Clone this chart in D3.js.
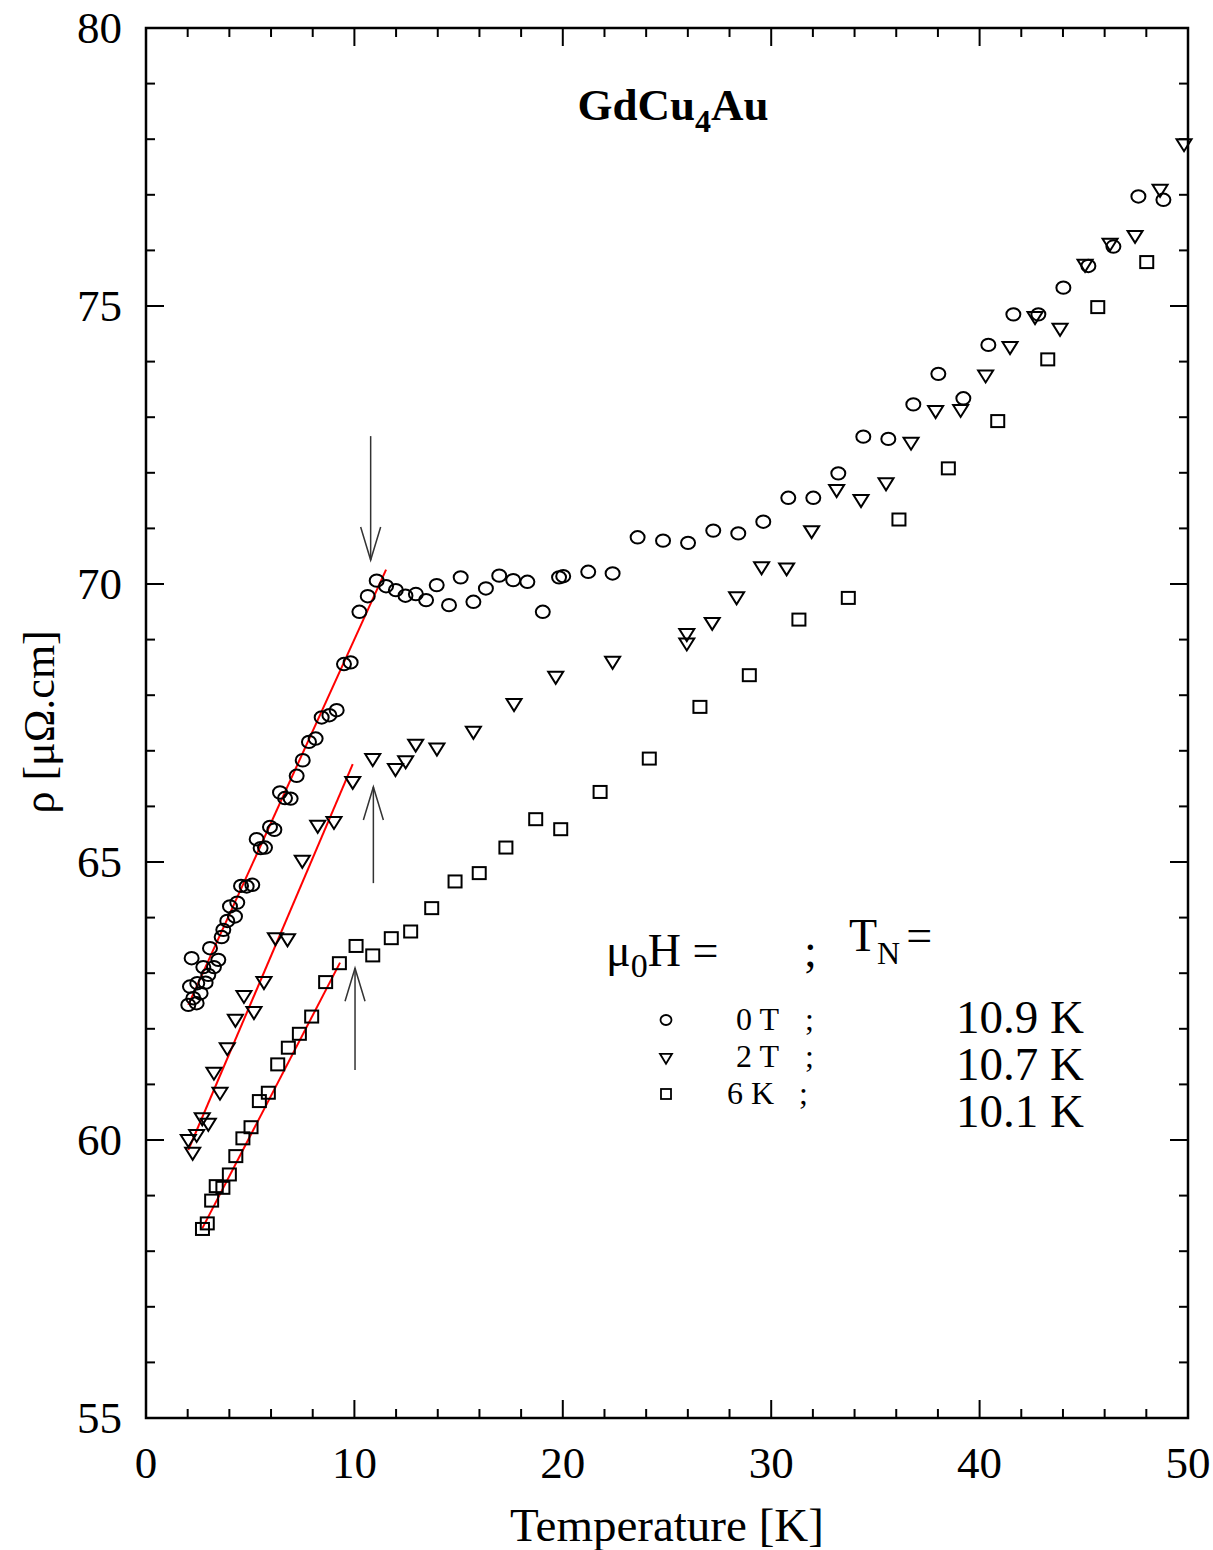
<!DOCTYPE html>
<html>
<head>
<meta charset="utf-8">
<script src="https://cdn.jsdelivr.net/npm/d3@7"></script>
<style>
  body { margin: 0; background: #fff; }
  svg { font-family: "Liberation Serif", "Times New Roman", serif; }
</style>
</head>
<body>
<div id="vis"></div>
<script>
const FRAME_WIDTH = 1213;
const FRAME_HEIGHT = 1550;
const MARGINS = {left: 146, right: 25, top: 28, bottom: 132};

// 0 T
const T_0T = [2.03, 2.11, 2.19, 2.27, 2.43, 2.46, 2.62, 2.75, 2.86, 2.99, 3.07, 3.26, 3.47, 3.63, 3.71, 3.90, 4.03, 4.27, 4.38, 4.56,
  4.83, 5.10, 5.31, 5.50, 5.71, 5.95, 6.16, 6.43, 6.67, 6.94, 7.23, 7.52, 7.82, 8.14, 8.43, 8.80, 9.15, 9.50, 9.82, 10.24,
  10.64, 11.07, 11.52, 11.99, 12.45, 12.95, 13.44, 13.95, 14.54, 15.10, 15.71, 16.31, 16.95, 17.62, 18.30, 19.04, 19.82, 20.02, 21.22, 22.39,
  23.59, 24.81, 26.01, 27.22, 28.42, 29.62, 30.82, 32.02, 33.22, 34.42, 35.62, 36.82, 38.02, 39.22, 40.42, 41.62, 42.82, 44.02, 45.22, 46.42,
  47.62, 48.82];
const RHO_0T = [62.43, 62.76, 63.27, 62.55, 62.46, 62.82, 62.64, 63.11, 62.83, 62.97, 63.45, 63.11, 63.24, 63.65, 63.78, 63.94, 64.20, 64.02, 64.27, 64.57,
  64.56, 64.59, 65.41, 65.25, 65.26, 65.63, 65.58, 66.25, 66.15, 66.14, 66.55, 66.83, 67.16, 67.22, 67.60, 67.64, 67.73, 68.56, 68.59, 69.50,
  69.78, 70.06, 69.96, 69.89, 69.79, 69.82, 69.71, 69.98, 69.62, 70.12, 69.68, 69.92, 70.15, 70.07, 70.04, 69.50, 70.12, 70.14, 70.22, 70.19,
  70.84, 70.78, 70.74, 70.96, 70.91, 71.12, 71.55, 71.55, 71.99, 72.65, 72.61, 73.23, 73.78, 73.34, 74.30, 74.85, 74.85, 75.33, 75.72, 76.07,
  76.97, 76.91];

// 2 T
const T_2T = [2.03, 2.24, 2.43, 2.70, 2.99, 3.26, 3.55, 3.90, 4.29, 4.70, 5.18, 5.66, 6.21, 6.79, 7.50, 8.24, 9.02, 9.92, 10.88, 11.97,
  12.46, 12.94, 13.96, 15.71, 17.66, 19.66, 22.39, 25.95, 25.95, 27.17, 28.34, 29.54, 30.74, 31.94, 33.14, 34.31, 35.51, 36.71, 37.89, 39.09,
  40.29, 41.46, 42.66, 43.86, 45.06, 46.26, 47.46, 48.66, 49.81];
const RHO_2T = [60.00, 59.77, 60.09, 60.39, 60.29, 61.21, 60.85, 61.65, 62.16, 62.59, 62.30, 62.84, 63.63, 63.61, 65.02, 65.65, 65.72, 66.44, 66.85, 66.67,
  66.81, 67.11, 67.04, 67.34, 67.84, 68.33, 68.60, 69.10, 68.93, 69.30, 69.76, 70.30, 70.28, 70.95, 71.69, 71.51, 71.81, 72.54, 73.11, 73.13,
  73.75, 74.26, 74.80, 74.59, 75.74, 76.12, 76.26, 77.09, 77.91];

// 6 T (labelled "6 K" in the legend)
const T_6T = [2.71, 2.94, 3.15, 3.37, 3.69, 4.00, 4.31, 4.65, 5.04, 5.44, 5.87, 6.32, 6.83, 7.36, 7.95, 8.62, 9.28, 10.08, 10.88, 11.77,
  12.70, 13.71, 14.83, 15.99, 17.27, 18.70, 19.90, 21.79, 24.15, 26.58, 28.95, 31.33, 33.70, 36.13, 38.50, 40.87, 43.27, 45.67, 48.02];
const RHO_6T = [58.40, 58.50, 58.91, 59.17, 59.14, 59.38, 59.71, 60.03, 60.23, 60.70, 60.85, 61.36, 61.66, 61.91, 62.22, 62.84, 63.18, 63.49, 63.32, 63.63,
  63.75, 64.17, 64.65, 64.80, 65.26, 65.77, 65.59, 66.26, 66.86, 67.79, 68.36, 69.36, 69.75, 71.16, 72.08, 72.93, 74.04, 74.98, 75.79];

// linear fits below T_N: [T1, rho1, T2, rho2]
const FIT_0T = [2.03, 62.43, 11.52, 70.26];
const FIT_2T = [2.03, 59.82, 9.92, 66.76];
const FIT_6T = [2.70, 58.41, 9.31, 63.19];

// T_N arrows: [T, rho tail, rho tip]
const ARROWS = [[10.78, 72.66, 70.43], [10.91, 64.62, 66.35], [10.03, 61.26, 63.09]];

const X_TICKS = [0, 10, 20, 30, 40, 50];
const Y_TICKS = [55, 60, 65, 70, 75, 80];
const LEGEND_FIELDS = ["0 T", "2 T", "6 K"];
const LEGEND_TN = ["10.9 K", "10.7 K", "10.1 K"];

const VIS_WIDTH = FRAME_WIDTH - MARGINS.left - MARGINS.right;
const VIS_HEIGHT = FRAME_HEIGHT - MARGINS.top - MARGINS.bottom;

const svg = d3.select("#vis").append("svg")
  .attr("width", FRAME_WIDTH)
  .attr("height", FRAME_HEIGHT);

const X_SCALE = d3.scaleLinear().domain([0, 50]).range([MARGINS.left, MARGINS.left + VIS_WIDTH]);
const Y_SCALE = d3.scaleLinear().domain([55, 80]).range([MARGINS.top + VIS_HEIGHT, MARGINS.top]);

const x0 = X_SCALE(0), x1 = X_SCALE(50), y0 = Y_SCALE(55), y1 = Y_SCALE(80);

// ticks (inward on all four sides)
const MAJ = 18, MIN = 9;
const ticks = svg.append("g").attr("stroke", "#000").attr("stroke-width", 2);
d3.range(0, 51, 2).forEach(t => {
  const len = t % 10 === 0 ? MAJ : MIN;
  const x = X_SCALE(t);
  ticks.append("line").attr("x1", x).attr("x2", x).attr("y1", y0).attr("y2", y0 - len);
  ticks.append("line").attr("x1", x).attr("x2", x).attr("y1", y1).attr("y2", y1 + len);
});
d3.range(55, 81, 1).forEach(v => {
  const len = v % 5 === 0 ? MAJ : MIN;
  const y = Y_SCALE(v);
  ticks.append("line").attr("x1", x0).attr("x2", x0 + len).attr("y1", y).attr("y2", y);
  ticks.append("line").attr("x1", x1).attr("x2", x1 - len).attr("y1", y).attr("y2", y);
});

// frame
svg.append("rect")
  .attr("x", x0).attr("y", y1)
  .attr("width", x1 - x0).attr("height", y0 - y1)
  .attr("fill", "none").attr("stroke", "#000").attr("stroke-width", 2.5);

// tick labels
svg.selectAll(".xlab").data(X_TICKS).enter().append("text")
  .attr("x", d => X_SCALE(d)).attr("y", y0 + 60)
  .attr("text-anchor", "middle").attr("font-size", 45)
  .text(d => d);
svg.selectAll(".ylab").data(Y_TICKS).enter().append("text")
  .attr("x", x0 - 24).attr("y", d => Y_SCALE(d) + 15)
  .attr("text-anchor", "end").attr("font-size", 45)
  .text(d => d);

// axis titles
svg.append("text")
  .attr("x", (x0 + x1) / 2).attr("y", 1541)
  .attr("text-anchor", "middle").attr("font-size", 47)
  .text("Temperature [K]");
svg.append("text")
  .attr("transform", "translate(54," + Y_SCALE(67.52) + ") rotate(-90)")
  .attr("text-anchor", "middle").attr("font-size", 44)
  .text("ρ [μΩ.cm]");

// title
const title = svg.append("text")
  .attr("x", 673).attr("y", 120)
  .attr("text-anchor", "middle").attr("font-size", 45).attr("font-weight", "bold");
title.append("tspan").text("GdCu");
title.append("tspan").attr("dy", 12).attr("font-size", 32).text("4");
title.append("tspan").attr("dy", -12).text("Au");

// fit lines
[FIT_0T, FIT_2T, FIT_6T].forEach(f => {
  svg.append("line")
    .attr("x1", X_SCALE(f[0])).attr("y1", Y_SCALE(f[1]))
    .attr("x2", X_SCALE(f[2])).attr("y2", Y_SCALE(f[3]))
    .attr("stroke", "#f00").attr("stroke-width", 2);
});

// arrows
ARROWS.forEach(a => {
  const x = X_SCALE(a[0]);
  const yt = Y_SCALE(a[1]), yh = Y_SCALE(a[2]);
  const dir = yh > yt ? 1 : -1;
  const g = svg.append("g").attr("stroke", "#333").attr("stroke-width", 1.5).attr("fill", "none");
  g.append("line").attr("x1", x).attr("x2", x).attr("y1", yt).attr("y2", yh);
  g.append("path").attr("d", `M${x - 10},${yh - dir * 33} L${x},${yh} L${x + 10},${yh - dir * 33}`);
});

// markers
const tri = (x, y, w, h) => `M${x - w / 2},${y - h * 0.42} L${x + w / 2},${y - h * 0.42} L${x},${y + h * 0.58} Z`;
const pts = (T, R) => T.map((t, i) => ({t: t, r: R[i]}));

svg.append("g").selectAll("ellipse").data(pts(T_0T, RHO_0T)).enter().append("ellipse")
  .attr("cx", d => X_SCALE(d.t)).attr("cy", d => Y_SCALE(d.r))
  .attr("rx", 7).attr("ry", 6.2)
  .attr("fill", "none").attr("stroke", "#000").attr("stroke-width", 2);

svg.append("g").selectAll("path").data(pts(T_2T, RHO_2T)).enter().append("path")
  .attr("d", d => tri(X_SCALE(d.t), Y_SCALE(d.r), 15, 12))
  .attr("fill", "none").attr("stroke", "#000").attr("stroke-width", 2);

svg.append("g").selectAll("rect").data(pts(T_6T, RHO_6T)).enter().append("rect")
  .attr("x", d => X_SCALE(d.t) - 6.5).attr("y", d => Y_SCALE(d.r) - 6)
  .attr("width", 13).attr("height", 12)
  .attr("fill", "none").attr("stroke", "#000").attr("stroke-width", 2);

// legend
const h1 = svg.append("text").attr("x", 606).attr("y", 966).attr("font-size", 46);
h1.append("tspan").text("μ");
h1.append("tspan").attr("dy", 11).attr("font-size", 34).text("0");
h1.append("tspan").attr("dy", -11).text("H =");
svg.append("text").attr("x", 804).attr("y", 966).attr("font-size", 46).text(";");
const h2 = svg.append("text").attr("x", 849).attr("y", 951).attr("font-size", 46);
h2.append("tspan").text("T");
h2.append("tspan").attr("dy", 13).attr("font-size", 32).text("N");
h2.append("tspan").attr("dy", -13).attr("dx", 6).text("=");

const LEG_Y = [1020, 1057, 1094];
const legMark = svg.append("g").attr("fill", "none").attr("stroke", "#000").attr("stroke-width", 1.8);
legMark.append("ellipse").attr("cx", 666).attr("cy", LEG_Y[0]).attr("rx", 5.5).attr("ry", 5);
legMark.append("path").attr("d", tri(666, LEG_Y[1] + 1, 12, 10));
legMark.append("rect").attr("x", 661).attr("y", LEG_Y[2] - 5).attr("width", 10).attr("height", 10);

svg.selectAll(".legf").data(LEGEND_FIELDS).enter().append("text")
  .attr("x", (d, i) => i === 2 ? 774 : 779).attr("y", (d, i) => LEG_Y[i] + 10)
  .attr("text-anchor", "end").attr("font-size", 32)
  .text(d => d);
svg.selectAll(".legs").data(LEGEND_FIELDS).enter().append("text")
  .attr("x", (d, i) => i === 2 ? 799 : 805).attr("y", (d, i) => LEG_Y[i] + 10)
  .attr("font-size", 32)
  .text(";");
svg.selectAll(".legt").data(LEGEND_TN).enter().append("text")
  .attr("x", 1084).attr("y", (d, i) => 1033 + i * 47)
  .attr("text-anchor", "end").attr("font-size", 47)
  .text(d => d);
</script>
</body>
</html>
